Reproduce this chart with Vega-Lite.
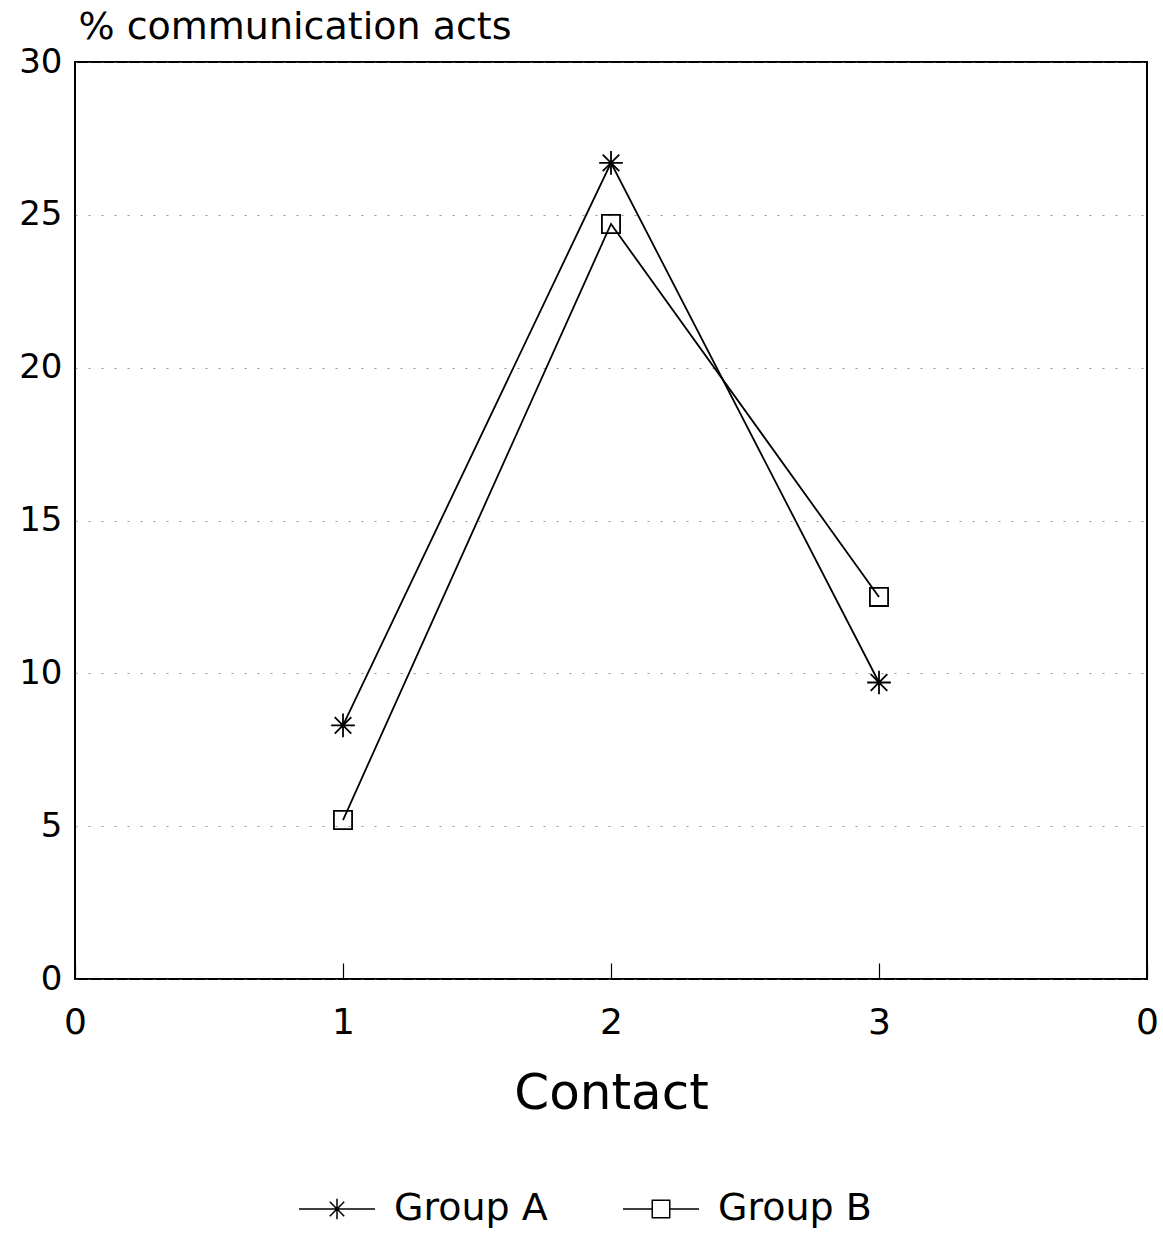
{
  "$schema": "https://vega.github.io/schema/vega-lite/v6.json",
  "width": 1072,
  "height": 917,
  "autosize": {"type": "none"},
  "padding": {"left": 75, "top": 62, "right": 16, "bottom": 255},
  "background": "white",
  "config": {
    "font": "DejaVu Sans",
    "view": {"stroke": "black", "strokeWidth": 2},
    "axis": {"domain": false, "labelColor": "black", "titleColor": "black", "titleFontWeight": "normal"}
  },
  "data": {
    "values": [
      {"contact": 1, "group": "Group A", "pct": 8.3},
      {"contact": 2, "group": "Group A", "pct": 26.7},
      {"contact": 3, "group": "Group A", "pct": 9.7},
      {"contact": 1, "group": "Group B", "pct": 5.2},
      {"contact": 2, "group": "Group B", "pct": 24.7},
      {"contact": 3, "group": "Group B", "pct": 12.5}
    ]
  },
  "encoding": {
    "x": {
      "field": "contact", "type": "quantitative",
      "scale": {"domain": [0, 4], "nice": false, "zero": false},
      "axis": {
        "values": [0, 1, 2, 3, 4],
        "labelExpr": "datum.value == 4 ? '0' : datum.label",
        "grid": false,
        "tickSize": -16, "tickColor": "black", "tickWidth": 1.2,
        "labelFontSize": 36, "labelPadding": 42, "labelBound": false, "labelOverlap": false, "labelFlush": false,
        "title": "Contact", "titleFontSize": 50, "titlePadding": 28
      }
    },
    "y": {
      "field": "pct", "type": "quantitative",
      "scale": {"domain": [0, 30], "nice": false},
      "axis": {
        "values": [0, 5, 10, 15, 20, 25, 30],
        "ticks": false,
        "grid": true, "gridColor": "#666", "gridDash": [2, 11], "gridWidth": 1, "gridOpacity": 0.7,
        "labelFontSize": 34, "labelPadding": 13, "labelBaseline": "middle",
        "title": "% communication acts", "titleFontSize": 38, "titleAngle": 0,
        "titleAlign": "left", "titleBaseline": "alphabetic", "titleX": 3, "titleY": -24
      }
    }
  },
  "resolve": {"scale": {"shape": "independent", "size": "independent"}, "legend": {"shape": "independent"}},
  "layer": [
    {
      "mark": {"type": "line", "color": "black", "strokeWidth": 1.8},
      "encoding": {"detail": {"field": "group"}}
    },
    {
      "mark": {"type": "point", "filled": false, "stroke": "black", "strokeWidth": 1.8, "opacity": 1},
      "encoding": {
        "shape": {
          "field": "group", "type": "nominal",
          "scale": {"domain": ["Group A", "Group B"], "range": ["M0,-1V1M-1,0H1M-0.7,-0.7L0.7,0.7M-0.7,0.7L0.7,-0.7", "square"]},
          "legend": null
        },
        "size": {
          "field": "group", "type": "nominal",
          "scale": {"domain": ["Group A", "Group B"], "range": [560, 330]},
          "legend": null
        }
      }
    },
    {
      "mark": {"type": "point", "filled": false, "stroke": "black", "strokeWidth": 1.5, "opacity": 0},
      "encoding": {
        "shape": {
          "field": "group", "type": "nominal",
          "scale": {"domain": ["Group A", "Group B"], "range": ["M-1,0H1M0,-0.27V0.27M-0.27,0H0.27M-0.19,-0.19L0.19,0.19M-0.19,0.19L0.19,-0.19", "M-1,0H-0.23M0.23,0H1M-0.23,-0.23H0.23V0.23H-0.23Z"]},
          "legend": {
            "orient": "none", "direction": "horizontal", "legendX": 223, "legendY": 1108,
            "title": null, "symbolSize": 5776, "symbolStrokeWidth": 1.5, "symbolOpacity": 1,
            "symbolStrokeColor": "black", "symbolFillColor": "transparent",
            "labelFontSize": 38, "labelColor": "black", "labelOffset": 18, "columnPadding": 72
          }
        }
      }
    }
  ]
}
